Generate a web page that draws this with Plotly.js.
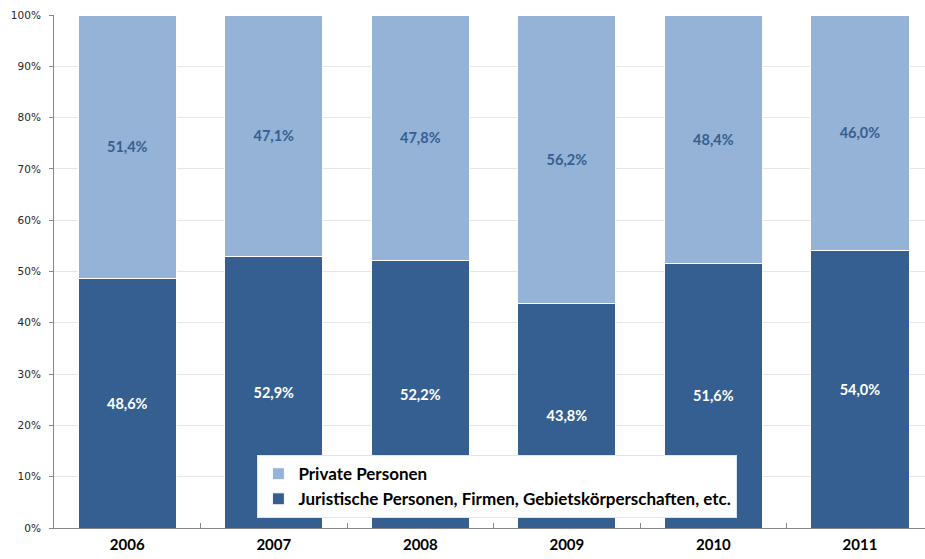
<!DOCTYPE html>
<html><head><meta charset="utf-8">
<script src="https://cdn.plot.ly/plotly-3.0.1.min.js"></script>
<style>html,body{margin:0;padding:0;overflow:hidden;background:#fff}</style>
</head><body><div id="chart" style="width:925px;height:559px"></div>
<script>
const years = ['2006','2007','2008','2009','2010','2011'];
const privatePersonen = [51.4, 47.1, 47.8, 56.2, 48.4, 46.0];
const juristischePersonen = [48.6, 52.9, 52.2, 43.8, 51.6, 54.0];
const seriesNames = ['Private Personen', 'Juristische Personen, Firmen, Gebietskörperschaften, etc.'];
const yTicks = [0,10,20,30,40,50,60,70,80,90,100];

const fmt = v => v.toFixed(1).replace('.', ',') + '%';

const traceJur = {
  type: 'bar', x: years, y: juristischePersonen, name: seriesNames[1],
  marker: {color: '#365F91', line: {color: '#ffffff', width: 1}},
  text: juristischePersonen.map(fmt), textposition: 'inside', insidetextanchor: 'middle',
  textangle: 0, constraintext: 'none',
  textfont: {family: 'Lato, sans-serif', size: 14.5, color: '#ffffff', weight: 'bold'},
  hoverinfo: 'none'
};
const tracePriv = {
  type: 'bar', x: years, y: privatePersonen, name: seriesNames[0],
  marker: {color: '#95B3D7', line: {color: '#ffffff', width: 1}},
  text: privatePersonen.map(fmt), textposition: 'inside', insidetextanchor: 'middle',
  textangle: 0, constraintext: 'none',
  textfont: {family: 'Lato, sans-serif', size: 14.5, color: '#365F91', weight: 'bold'},
  hoverinfo: 'none'
};

const layout = {
  width: 925, height: 559,
  margin: {l: 54, r: 0, t: 15, b: 31},
  barmode: 'stack', bargap: 0.33,
  paper_bgcolor: '#fff', plot_bgcolor: '#fff',
  showlegend: true,
  legend: {
    x: 0.2335, y: 0.142, xanchor: 'left', yanchor: 'top',
    traceorder: 'reversed', bgcolor: '#ffffff', bordercolor: '#DCE6F2', borderwidth: 1,
    itemwidth: 30,
    font: {family: 'Lato, sans-serif', size: 17, color: '#000', weight: 'bold'}
  },
  xaxis: {
    type: 'category', range: [-0.5, 5.444],
    showline: true, linecolor: '#868686', linewidth: 1,
    ticks: 'inside', ticklen: 5, tickcolor: '#868686', tickson: 'boundaries',
    tickfont: {family: 'Lato, sans-serif', size: 15, color: '#000', weight: 'bold'},
    ticklabelstandoff: 3,
    showgrid: false, fixedrange: true
  },
  yaxis: {
    range: [0, 100], tickvals: yTicks, ticktext: yTicks.map(v => v + '%'),
    showline: true, linecolor: '#868686', linewidth: 1,
    ticks: 'outside', ticklen: 4, tickcolor: '#868686',
    tickfont: {family: 'DejaVu Sans, sans-serif', size: 10.5, color: '#262626'},
    ticklabelstandoff: 6,
    showgrid: true, gridcolor: '#E6E6E6', gridwidth: 1,
    zeroline: false, fixedrange: true
  }
};

Plotly.newPlot('chart', [traceJur, tracePriv], layout, {displayModeBar: false, staticPlot: true});
</script></body></html>
